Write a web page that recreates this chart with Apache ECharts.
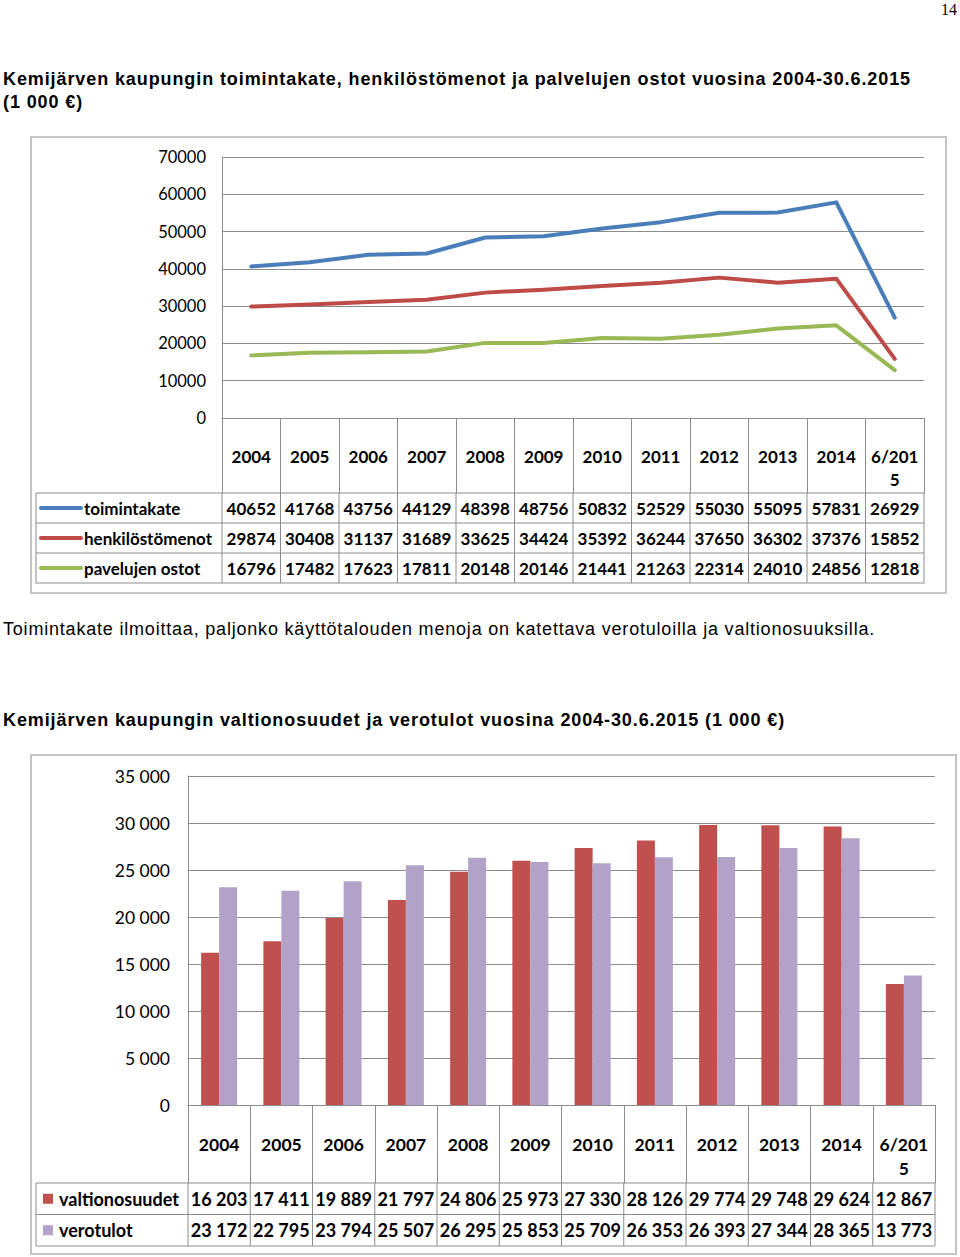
<!DOCTYPE html>
<html>
<head>
<meta charset="utf-8">
<script src="https://cdn.jsdelivr.net/npm/echarts/dist/echarts.min.js"></script>
<style>
  html, body { margin: 0; padding: 0; background: #fff; }
  #page { position: relative; width: 960px; height: 1257px; overflow: hidden; }
  #chart { position: absolute; left: 0; top: 0; width: 960px; height: 1257px; }
  .t { position: absolute; color: #000; font-family: "Liberation Sans", Arial, sans-serif; white-space: nowrap; }
  .title { font-weight: bold; font-size: 18px; line-height: 23px; letter-spacing: 0.9px; }
  .para { font-size: 18px; line-height: 22px; letter-spacing: 0.8px; }
  .pnum { font-family: "Liberation Serif", "Times New Roman", serif; font-size: 16px; }
</style>
</head>
<body>
<div id="page">
  <div id="chart"></div>
  <div class="t pnum" style="right:3px; top:1px;">14</div>
  <div class="t title" style="left:3px; top:68px;">Kemijärven kaupungin toimintakate, henkilöstömenot ja palvelujen ostot vuosina 2004-30.6.2015<br>(1 000 €)</div>
  <div class="t para" style="left:3px; top:618px;">Toimintakate ilmoittaa, paljonko käyttötalouden menoja on katettava verotuloilla ja valtionosuuksilla.</div>
  <div class="t title" style="left:3px; top:709px;">Kemijärven kaupungin valtionosuudet ja verotulot vuosina 2004-30.6.2015 (1 000 €)</div>
</div>
<script>
// ---- data ----
const years = ['2004','2005','2006','2007','2008','2009','2010','2011','2012','2013','2014','6/2015'];
const toimintakate = [40652,41768,43756,44129,48398,48756,50832,52529,55030,55095,57831,26929];
const henkilostomenot = [29874,30408,31137,31689,33625,34424,35392,36244,37650,36302,37376,15852];
const palvelujenOstot = [16796,17482,17623,17811,20148,20146,21441,21263,22314,24010,24856,12818];
const lineSeriesNames = ['toimintakate','henkilöstömenot','pavelujen ostot'];
const yMax1 = 70000, yStep1 = 10000;

const valtionosuudet = [16203,17411,19889,21797,24806,25973,27330,28126,29774,29748,29624,12867];
const verotulot = [23172,22795,23794,25507,26295,25853,25709,26353,26393,27344,28365,13773];
const barSeriesNames = ['valtionosuudet','verotulot'];
const yMax2 = 35000, yStep2 = 5000;

// ---- styles ----
const FONT = 'Lato';
const GRAY = '#8c8c8c';
const lineColors = ['#4A7EBB','#BE4B48','#98B954'];
const barColors = ['#C0504D','#B3A2C7'];
const fmtSpace = v => String(v).replace(/\B(?=(\d{3})+(?!\d))/g, ' ');
const fmtPlain = v => String(v);

const chart = echarts.init(document.getElementById('chart'), null, {renderer: 'svg'});

const g1 = {left: 222, top: 157, width: 702, height: 261};
const g2 = {left: 188, top: 776, width: 747, height: 329};
const tick1 = 75, tick2 = 78;

const option = {
  animation: false,
  backgroundColor: '#fff',
  grid: [g1, g2],
  xAxis: [
    {
      type: 'category', gridIndex: 0, data: years, boundaryGap: true,
      axisLine: {lineStyle: {color: GRAY, width: 1}},
      axisTick: {show: true, length: tick1, lineStyle: {color: GRAY, width: 1}},
      axisLabel: {interval: 0, color: '#000', fontFamily: FONT, fontWeight: 'bold', fontSize: 17,
                  margin: 27, lineHeight: 23, width: 50, overflow: 'breakAll'},
      splitLine: {show: false}
    },
    {
      type: 'category', gridIndex: 1, data: years, boundaryGap: true,
      axisLine: {lineStyle: {color: GRAY, width: 1}},
      axisTick: {show: true, length: tick2, lineStyle: {color: GRAY, width: 1}},
      axisLabel: {interval: 0, color: '#000', fontFamily: FONT, fontWeight: 'bold', fontSize: 17.5,
                  margin: 27, lineHeight: 24, width: 52, overflow: 'breakAll'},
      splitLine: {show: false}
    }
  ],
  yAxis: [
    {
      type: 'value', gridIndex: 0, min: 0, max: yMax1, interval: yStep1,
      axisLine: {show: true, lineStyle: {color: GRAY, width: 1}},
      axisTick: {show: false},
      axisLabel: {color: '#000', fontFamily: FONT, fontSize: 16.5, margin: 16, formatter: fmtPlain},
      splitLine: {show: true, lineStyle: {color: GRAY, width: 1}}
    },
    {
      type: 'value', gridIndex: 1, min: 0, max: yMax2, interval: yStep2,
      axisLine: {show: true, lineStyle: {color: GRAY, width: 1}},
      axisTick: {show: false},
      axisLabel: {color: '#000', fontFamily: FONT, fontSize: 17.5, margin: 18, formatter: fmtSpace},
      splitLine: {show: true, lineStyle: {color: GRAY, width: 1}}
    }
  ],
  series: [
    ...[toimintakate, henkilostomenot, palvelujenOstot].map((d, i) => ({
      name: lineSeriesNames[i], type: 'line', xAxisIndex: 0, yAxisIndex: 0, data: d,
      showSymbol: false, symbol: 'none',
      lineStyle: {color: lineColors[i], width: 4, cap: 'round', join: 'round'},
      itemStyle: {color: lineColors[i]}
    })),
    ...[valtionosuudet, verotulot].map((d, i) => ({
      name: barSeriesNames[i], type: 'bar', xAxisIndex: 1, yAxisIndex: 1, data: d,
      barWidth: 18, barGap: '0%',
      itemStyle: {color: barColors[i]}
    }))
  ]
};
chart.setOption(option);

// ---- data tables under the axes, positioned through the category scales ----
function buildTable(axisIndex, grid, tickLen, rowH, rows, leftX, fontSize, keyType) {
  const els = [];
  const cx = i => chart.convertToPixel({xAxisIndex: axisIndex}, i);
  const band = cx(1) - cx(0);
  const right = cx(years.length - 1) + band / 2;
  const top = grid.top + grid.height + tickLen;
  const line = (x1, y1, x2, y2) => ({type: 'line', silent: true,
    shape: {x1, y1, x2, y2}, style: {stroke: GRAY, lineWidth: 1}});
  for (let r = 0; r <= rows.length; r++) {
    els.push(line(leftX, top + r * rowH, right, top + r * rowH));
  }
  const bottom = top + rows.length * rowH;
  els.push(line(leftX, top, leftX, bottom));
  for (let i = 0; i <= years.length; i++) {
    const x = cx(0) - band / 2 + i * band;
    els.push(line(x, top, x, bottom));
  }
  rows.forEach((row, r) => {
    const yc = top + r * rowH + rowH / 2;
    if (keyType === 'line') {
      els.push({type: 'line', silent: true, shape: {x1: leftX + 5, y1: yc, x2: leftX + 45, y2: yc},
        style: {stroke: row.color, lineWidth: 4, lineCap: 'round'}});
      els.push({type: 'text', silent: true, x: leftX + 48, y: yc,
        style: {text: row.name, fill: '#000', font: `bold ${fontSize}px ${FONT}`, align: 'left', verticalAlign: 'middle'}});
    } else {
      els.push({type: 'rect', silent: true, shape: {x: leftX + 7, y: yc - 5, width: 10, height: 10},
        style: {fill: row.color}});
      els.push({type: 'text', silent: true, x: leftX + 23, y: yc,
        style: {text: row.name, fill: '#000', font: `bold ${fontSize}px ${FONT}`, align: 'left', verticalAlign: 'middle'}});
    }
    row.data.forEach((v, i) => {
      els.push({type: 'text', silent: true, x: cx(i), y: yc,
        style: {text: row.fmt(v), fill: '#000', font: `bold ${fontSize}px ${FONT}`, align: 'center', verticalAlign: 'middle'}});
    });
  });
  return els;
}

const table1 = buildTable(0, g1, tick1, 30, [
  {name: lineSeriesNames[0], color: lineColors[0], data: toimintakate, fmt: fmtPlain},
  {name: lineSeriesNames[1], color: lineColors[1], data: henkilostomenot, fmt: fmtPlain},
  {name: lineSeriesNames[2], color: lineColors[2], data: palvelujenOstot, fmt: fmtPlain}
], 36, 17, 'line');

const table2 = buildTable(1, g2, tick2, 31.5, [
  {name: barSeriesNames[0], color: barColors[0], data: valtionosuudet, fmt: fmtSpace},
  {name: barSeriesNames[1], color: barColors[1], data: verotulot, fmt: fmtSpace}
], 36, 18, 'square');

const frames = [
  {type: 'rect', silent: true, shape: {x: 31, y: 137, width: 915, height: 456},
   style: {fill: 'none', stroke: '#c4c4c4', lineWidth: 2}},
  {type: 'rect', silent: true, shape: {x: 31, y: 755, width: 925, height: 499},
   style: {fill: 'none', stroke: '#c4c4c4', lineWidth: 2}}
];

chart.setOption({graphic: {elements: [...frames, ...table1, ...table2]}});
</script>
</body>
</html>
